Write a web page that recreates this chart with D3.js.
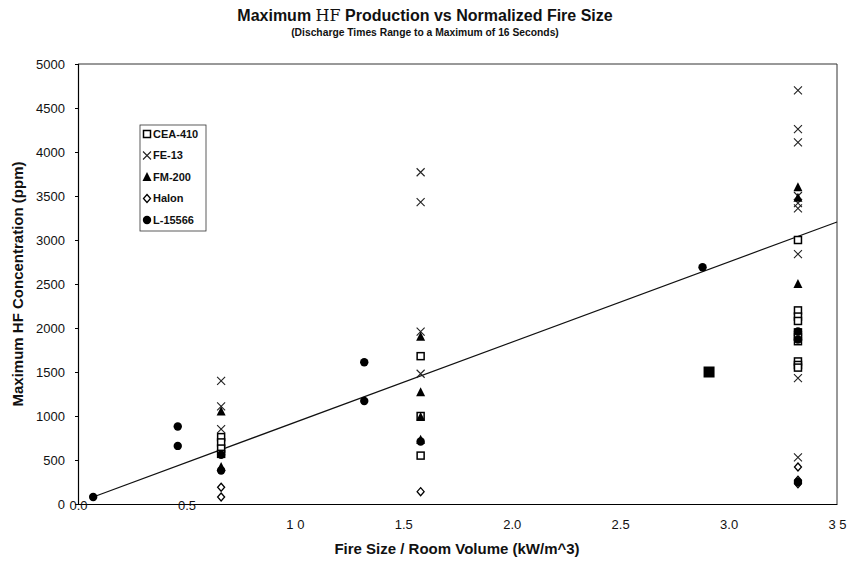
<!DOCTYPE html>
<html>
<head>
<meta charset="utf-8">
<script src="https://cdnjs.cloudflare.com/ajax/libs/d3/7.8.5/d3.min.js"></script>
<style>
  body { margin: 0; background: #fff; }
  svg { font-family: "Liberation Sans", Arial, sans-serif; }
</style>
</head>
<body>
<script>
var width = 847;
var height = 561;

// series: [fire size, max HF ppm]
var cea410 = [[0.66, 760], [0.66, 700], [0.66, 630], [0.66, 570], [1.58, 1680], [1.58, 1000], [1.58, 550],
  [3.32, 3000], [3.32, 2200], [3.32, 2130], [3.32, 2080], [3.32, 1950], [3.32, 1900], [3.32, 1850],
  [3.32, 1620], [3.32, 1580], [3.32, 1550]];
var fe13 = [[0.66, 1400], [0.66, 1110], [0.66, 850], [1.58, 3770], [1.58, 3430], [1.58, 1960], [1.58, 1480],
  [3.32, 4700], [3.32, 4260], [3.32, 4110], [3.32, 3500], [3.32, 3420], [3.32, 3360], [3.32, 2840],
  [3.32, 1430], [3.32, 530]];
var fm200 = [[0.66, 1050], [0.66, 420], [1.58, 1900], [1.58, 1270], [1.58, 990], [1.58, 730],
  [3.32, 3600], [3.32, 3480], [3.32, 2500]];
var halon = [[0.66, 190], [0.66, 80], [1.58, 140], [3.32, 420], [3.32, 270], [3.32, 230]];
var l15566 = [[0.07, 80], [0.46, 880], [0.46, 660], [0.66, 560], [0.66, 380], [1.32, 1610], [1.32, 1170],
  [1.58, 710], [2.88, 2690], [3.32, 1960], [3.32, 1870], [3.32, 250]];
var unlabeled = [[2.91, 1500]];
var trend = [[0.07, 80], [3.5, 3205]];

var xTicks = [0, 0.5, 1.0, 1.5, 2.0, 2.5, 3.0, 3.5];
var xTickText = ['0.0', '0.5', '1 0', '1.5', '2.0', '2.5', '3.0', '3 5'];
var yTicks = [0, 500, 1000, 1500, 2000, 2500, 3000, 3500, 4000, 4500, 5000];

var series = [
  { name: 'CEA-410', data: cea410, shape: 'square' },
  { name: 'FE-13', data: fe13, shape: 'x' },
  { name: 'FM-200', data: fm200, shape: 'triangle' },
  { name: 'Halon', data: halon, shape: 'diamond' },
  { name: 'L-15566', data: l15566, shape: 'dot' }
];

var svg = d3.select('body').append('svg')
  .attr('width', width)
  .attr('height', height);

var x = d3.scaleLinear().domain([0, 3.5]).range([78, 837]);
var y = d3.scaleLinear().domain([0, 5000]).range([504, 64]);

// frame: top and right edges of plot area
svg.append('path')
  .attr('d', 'M' + x(0) + ',' + y(5000) + 'H' + x(3.5) + 'V' + y(0))
  .attr('fill', 'none').attr('stroke', '#333').attr('stroke-width', 1);

// y axis
var yAxis = svg.append('g')
  .attr('transform', 'translate(' + x(0) + ',0)')
  .call(d3.axisLeft(y).tickValues(yTicks).tickSize(3).tickPadding(10)
    .tickFormat(d3.format('d')));
yAxis.select('.domain').attr('stroke', '#000').attr('stroke-width', 1.2);
yAxis.selectAll('text').attr('font-size', 13).attr('fill', '#111')
  .attr('font-family', '"Liberation Sans", Arial, sans-serif');

// x axis
var xAxis = svg.append('g')
  .attr('transform', 'translate(0,' + y(0) + ')')
  .call(d3.axisBottom(x).tickValues(xTicks).tickSize(0)
    .tickFormat(function(d, i) { return xTickText[i]; }));
xAxis.select('.domain').attr('stroke', '#000').attr('stroke-width', 1.2);
xAxis.selectAll('text').attr('font-size', 13).attr('fill', '#111')
  .attr('font-family', '"Liberation Sans", Arial, sans-serif')
  .attr('dy', null)
  .attr('y', function(d) { return d < 1 ? 6 : 25; });

// trend line
svg.append('line')
  .attr('x1', x(trend[0][0])).attr('y1', y(trend[0][1]))
  .attr('x2', x(trend[1][0])).attr('y2', y(trend[1][1]))
  .attr('stroke', '#111').attr('stroke-width', 1.2);

function drawMark(sel, shape) {
  if (shape === 'square') {
    sel.append('rect').attr('x', -3.5).attr('y', -3.5).attr('width', 7).attr('height', 7)
      .attr('fill', '#fff').attr('stroke', '#000').attr('stroke-width', 1.5);
  } else if (shape === 'x') {
    sel.append('path').attr('d', 'M-4,-4L4,4M-4,4L4,-4')
      .attr('stroke', '#222').attr('stroke-width', 1.1).attr('fill', 'none');
  } else if (shape === 'triangle') {
    sel.append('path').attr('d', 'M0,-5L4.5,4L-4.5,4Z').attr('fill', '#000');
  } else if (shape === 'diamond') {
    sel.append('path').attr('d', 'M0,-4L3.5,0L0,4L-3.5,0Z')
      .attr('fill', '#fff').attr('stroke', '#000').attr('stroke-width', 1.3);
  } else if (shape === 'dot') {
    sel.append('circle').attr('r', 4.2).attr('fill', '#000');
  }
}

series.forEach(function(s) {
  svg.append('g').selectAll('g')
    .data(s.data)
    .enter().append('g')
      .attr('transform', function(d) { return 'translate(' + x(d[0]) + ',' + y(d[1]) + ')'; })
      .each(function() { drawMark(d3.select(this), s.shape); });
});

svg.append('g').selectAll('rect')
  .data(unlabeled)
  .enter().append('rect')
    .attr('x', function(d) { return x(d[0]) - 5.5; })
    .attr('y', function(d) { return y(d[1]) - 5.5; })
    .attr('width', 11).attr('height', 11)
    .attr('fill', '#000');

// legend
var legend = svg.append('g').attr('transform', 'translate(140,125)');
legend.append('rect').attr('width', 66).attr('height', 106)
  .attr('fill', '#fff').attr('stroke', '#333').attr('stroke-width', 0.8);
var item = legend.selectAll('g.item')
  .data(series)
  .enter().append('g')
    .attr('class', 'item')
    .attr('transform', function(d, i) { return 'translate(7,' + (9 + i * 21.5) + ')'; });
item.each(function(d) { drawMark(d3.select(this), d.shape); });
item.append('text')
  .attr('x', 6).attr('dy', '0.35em')
  .attr('font-size', 11).attr('font-weight', 'bold').attr('fill', '#111')
  .text(function(d) { return d.name; });

// titles
var title = svg.append('text')
  .attr('x', 425).attr('y', 21)
  .attr('text-anchor', 'middle')
  .attr('font-size', 16).attr('font-weight', 'bold').attr('fill', '#111');
title.append('tspan').text('Maximum ');
title.append('tspan').attr('font-family', '"DejaVu Serif", serif').attr('font-weight', 'normal').text('HF');
title.append('tspan').text(' Production vs Normalized Fire Size');

svg.append('text')
  .attr('x', 425).attr('y', 36)
  .attr('text-anchor', 'middle')
  .attr('font-size', 10.3).attr('font-weight', 'bold').attr('fill', '#111')
  .text('(Discharge Times Range to a Maximum of 16 Seconds)');

svg.append('text')
  .attr('x', 457).attr('y', 554)
  .attr('text-anchor', 'middle')
  .attr('font-size', 15).attr('font-weight', 'bold').attr('fill', '#111')
  .text('Fire Size / Room Volume (kW/m^3)');

svg.append('text')
  .attr('transform', 'translate(23,284) rotate(-90)')
  .attr('text-anchor', 'middle')
  .attr('font-size', 15).attr('font-weight', 'bold').attr('fill', '#111')
  .text('Maximum HF Concentration (ppm)');
</script>
</body>
</html>
